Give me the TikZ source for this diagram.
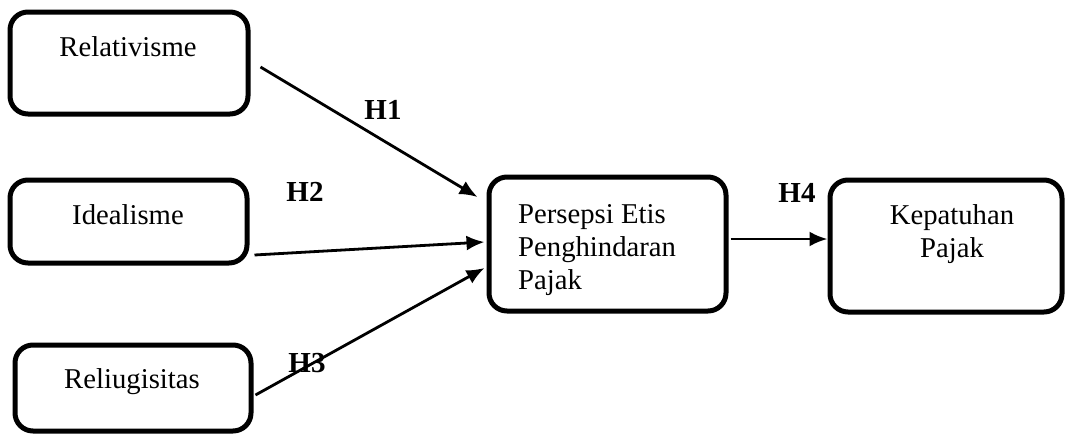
\documentclass[tikz,border=0pt]{standalone}
\usepackage{fontspec}
\setmainfont{Liberation Serif}
\usetikzlibrary{arrows.meta}
\begin{document}
\begin{tikzpicture}[x=1pt,y=-1pt,
  varbox/.style={draw, line width=5pt, rounded corners=18pt, rectangle,
    inner sep=0pt, fill=white},
  txt/.style={font=\fontsize{28.7}{33}\selectfont, inner sep=0pt},
  hyp/.style={font=\fontsize{29}{33}\selectfont\bfseries, inner sep=0pt},
  link/.style={line width=2.8pt, -{Latex[length=18pt,width=15pt]}}
]
\useasboundingbox (0,0) rectangle (1066,434);

% variable boxes
\node[varbox, minimum width=238pt, minimum height=102pt] (rel)   at (129,63)    {};
\node[varbox, minimum width=237pt, minimum height=83pt]  (ideal) at (128.5,221.5) {};
\node[varbox, minimum width=236pt, minimum height=86pt]  (relig) at (133,388)   {};
\node[varbox, minimum width=237pt, minimum height=134pt] (pers)  at (607.5,244) {};
\node[varbox, minimum width=232pt, minimum height=132pt] (kep)   at (946,246)   {};

% box captions
\node[txt] (relT)   at (128,47)  {Relativisme};
\node[txt] (idealT) at (128,215) {Idealisme};
\node[txt] (religT) at (132,382) {Reliugisitas};
\node[txt, align=left, anchor=west, text depth=0pt] (persT) at (518,247)
  {Persepsi Etis\\Penghindaran\\Pajak};
\node[txt, align=center] (kepT) at (952,234) {Kepatuhan\\Pajak};

% paths
\draw[link] ([xshift=10pt,yshift=-4pt]rel.east)      -- ([xshift=-9pt,yshift=47pt]pers.west);
\draw[link] ([xshift=5pt,yshift=-33.5pt]ideal.east)  -- ([xshift=-2pt,yshift=2pt]pers.west);
\draw[link] ([xshift=2pt,yshift=-7pt]relig.east)     -- ([xshift=-2pt,yshift=-24pt]pers.west);
\draw[link] ([xshift=2pt,yshift=5pt]pers.east)       -- ([yshift=7pt]kep.west);

% hypothesis labels
\node[hyp] (h1) at (383,110) {H1};
\node[hyp] (h2) at (305,192) {H2};
\node[hyp] (h3) at (307,363) {H3};
\node[hyp] (h4) at (797,193) {H4};
\end{tikzpicture}
\end{document}
